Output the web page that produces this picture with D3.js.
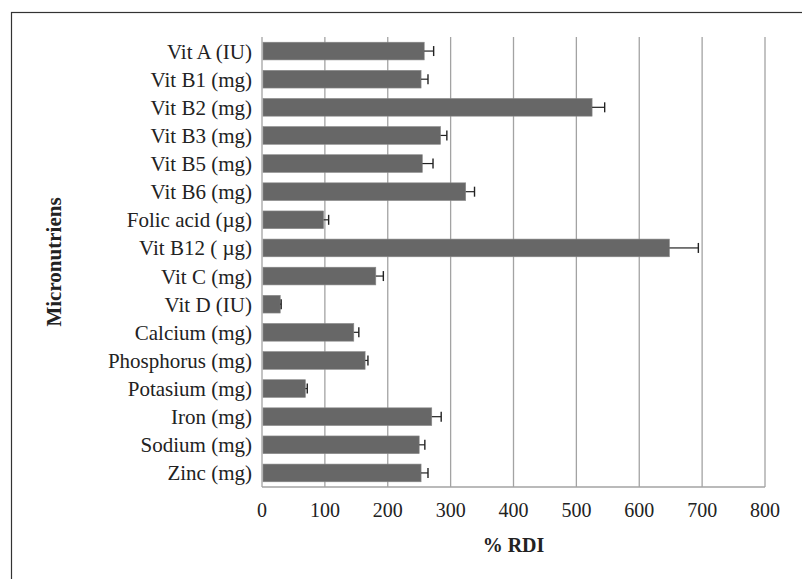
<!DOCTYPE html>
<html>
<head>
<meta charset="utf-8">
<script src="https://cdn.jsdelivr.net/npm/d3@7"></script>
<style>
  body { margin: 0; background: #fff; }
  text { font-family: "Liberation Serif", "Times New Roman", serif; fill: #222; }
</style>
</head>
<body>
<div id="chart"></div>
<script>
// Data
var categories = ["Vit A (IU)", "Vit B1 (mg)", "Vit B2 (mg)", "Vit B3 (mg)", "Vit B5 (mg)",
  "Vit B6 (mg)", "Folic acid (\u00b5g)", "Vit B12 ( \u00b5g)", "Vit C (mg)", "Vit D (IU)",
  "Calcium (mg)", "Phosphorus (mg)", "Potasium (mg)", "Iron (mg)", "Sodium (mg)", "Zinc (mg)"];
var values = [258, 253, 525, 284, 255, 324, 98, 648, 181, 29, 146, 164, 69, 270, 250, 253];
var errors = [15, 11, 20, 10, 17, 14, 8, 46, 12, 1.5, 8, 4.5, 3, 15, 9, 11];
var xTicks = [0, 100, 200, 300, 400, 500, 600, 700, 800];

var svgWidth = 802;
var svgHeight = 579;

var margin = { top: 37, right: 37, bottom: 92, left: 262 };
var width = svgWidth - margin.left - margin.right;
var height = svgHeight - margin.top - margin.bottom;

var svg = d3.select("#chart")
  .append("svg")
  .attr("width", svgWidth)
  .attr("height", svgHeight);

// Outer frame (only top and left edges are inside the picture)
svg.append("rect")
  .attr("x", 11.5)
  .attr("y", 12.5)
  .attr("width", 820)
  .attr("height", 620)
  .attr("fill", "none")
  .attr("stroke", "#333")
  .attr("stroke-width", 1.2);

var chartGroup = svg.append("g")
  .attr("transform", `translate(${margin.left}, ${margin.top})`);

// Scales
var xScale = d3.scaleLinear()
  .domain([0, 800])
  .range([0, width]);

var yScale = d3.scaleBand()
  .domain(categories)
  .range([0, height])
  .paddingInner(0.37)
  .paddingOuter(0.185);

// Vertical grid lines
chartGroup.selectAll(".grid")
  .data(xTicks)
  .enter()
  .append("line")
  .attr("class", "grid")
  .attr("x1", d => xScale(d))
  .attr("x2", d => xScale(d))
  .attr("y1", 0)
  .attr("y2", height)
  .attr("stroke", "#a3a3a3")
  .attr("stroke-width", 1.3);

// Bottom axis line
chartGroup.append("line")
  .attr("x1", 0)
  .attr("x2", width)
  .attr("y1", height)
  .attr("y2", height)
  .attr("stroke", "#a3a3a3")
  .attr("stroke-width", 1.3);

// Bars
chartGroup.selectAll(".bar")
  .data(values)
  .enter()
  .append("rect")
  .attr("class", "bar")
  .attr("x", xScale(0) + 1)
  .attr("y", (d, i) => yScale(categories[i]))
  .attr("width", d => xScale(d) - xScale(0) - 1)
  .attr("height", yScale.bandwidth())
  .attr("fill", "#676767")
  .attr("stroke", "#8a8a8a")
  .attr("stroke-width", 0.6);

// Error bars (plus side only)
var errGroup = chartGroup.selectAll(".err")
  .data(values)
  .enter()
  .append("g")
  .attr("class", "err")
  .attr("transform", (d, i) => `translate(0, ${yScale(categories[i]) + yScale.bandwidth() / 2})`);

errGroup.append("line")
  .attr("x1", d => xScale(d))
  .attr("x2", (d, i) => xScale(d + errors[i]))
  .attr("y1", 0)
  .attr("y2", 0)
  .attr("stroke", "#222")
  .attr("stroke-width", 1.2);

errGroup.append("line")
  .attr("x1", (d, i) => xScale(d + errors[i]))
  .attr("x2", (d, i) => xScale(d + errors[i]))
  .attr("y1", -5)
  .attr("y2", 5)
  .attr("stroke", "#222")
  .attr("stroke-width", 1.4);

// Category labels
chartGroup.selectAll(".cat")
  .data(categories)
  .enter()
  .append("text")
  .attr("class", "cat")
  .attr("x", -10)
  .attr("y", d => yScale(d) + yScale.bandwidth() / 2)
  .attr("dy", "0.36em")
  .attr("text-anchor", "end")
  .attr("font-size", 21)
  .text(d => d);

// Tick labels
chartGroup.selectAll(".tick-label")
  .data(xTicks)
  .enter()
  .append("text")
  .attr("class", "tick-label")
  .attr("x", d => xScale(d))
  .attr("y", height + 30)
  .attr("text-anchor", "middle")
  .attr("font-size", 20)
  .text(d => d);

// Axis titles
chartGroup.append("text")
  .attr("x", width / 2)
  .attr("y", height + 65)
  .attr("text-anchor", "middle")
  .attr("font-size", 20)
  .attr("font-weight", "bold")
  .text("% RDI");

chartGroup.append("text")
  .attr("transform", `translate(${61 - margin.left}, ${height / 2}) rotate(-90)`)
  .attr("text-anchor", "middle")
  .attr("font-size", 21)
  .attr("font-weight", "bold")
  .text("Micronutriens");
</script>
</body>
</html>
